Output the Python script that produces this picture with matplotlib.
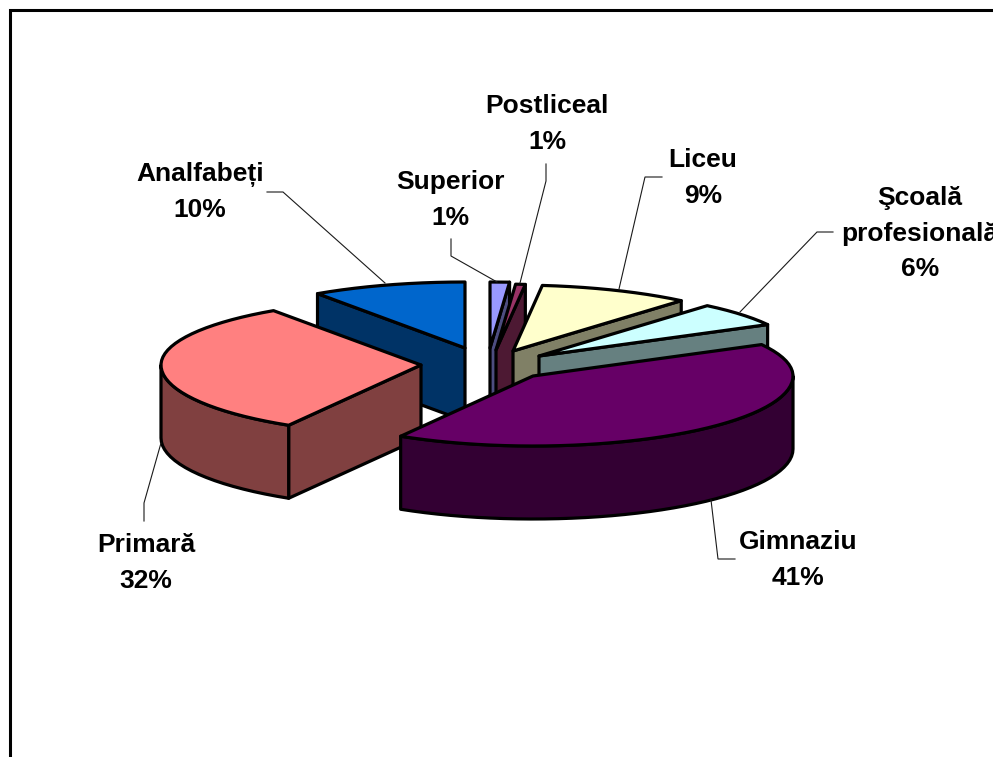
import numpy as np
import matplotlib
matplotlib.use("Agg")
import matplotlib.pyplot as plt
from matplotlib.patches import Polygon

# --- data (clockwise from 12 o'clock) ---
categories = ["Superior", "Postliceal", "Liceu", "Şcoală\nprofesională", "Gimnaziu", "Primară", "Analfabeți"]
shares = [1.2, 0.6, 9.4, 5.9, 41.4, 31.9, 9.6]
pct_labels = ["1%", "1%", "9%", "6%", "41%", "32%", "10%"]

# --- style ---
top_colors = ["#9999FF", "#993366", "#FFFFCC", "#CCFFFF", "#660066", "#FF8080", "#0066CC"]
side_colors = ["#4D4D80", "#4D1933", "#808066", "#668080", "#330033", "#804040", "#003366"]

# --- layout (pixel canvas) ---
W, H = 993, 757
RX, RY_BACK, RY_FRONT, DEPTH = 260.0, 66.0, 70.0, 73.0
LW = 2.3
apexes = [(490, 348), (496, 350), (513, 351), (539, 356), (533, 376), (421, 365), (465, 348)]
draw_order = [6, 0, 1, 2, 3, 5, 4]
label_x = [450, 547, 703, 920, 798, 146, 200]
label_base = [[189, 225], [113, 149], [167, 203], [205, 241, 276], [549, 585], [552, 588], [181, 217]]
leaders = [
    [(451, 239), (451, 256), (497, 282)],
    [(546, 164), (546, 181), (520, 283)],
    [(662, 177), (645, 177), (619, 289)],
    [(833, 232), (817, 232), (740, 312)],
    [(711, 500), (718, 559), (735, 559)],
    [(161, 443), (144, 503), (144, 521)],
    [(267, 192), (283, 192), (385, 283)],
]

fig = plt.figure(figsize=(W / 100, H / 100), dpi=100, facecolor="white")
ax = fig.add_axes([0, 0, 1, 1])
ax.set_xlim(0, W)
ax.set_ylim(H, 0)
ax.axis("off")


def rim(cx, cy, deg):
    t = np.radians(deg)
    c = np.cos(t)
    ry = np.where(c > 0, RY_BACK, RY_FRONT)
    return np.column_stack([cx + RX * np.sin(t), cy - ry * c])


def poly(pts, color, z):
    ax.add_patch(Polygon(pts, closed=True, facecolor=color, edgecolor="black",
                         linewidth=LW, joinstyle="round", zorder=z))


def drop(pts):
    return np.asarray(pts) + np.array([0, DEPTH])


total = sum(shares)
edges = np.concatenate([[0], np.cumsum(shares)]) / total * 360

for rank, i in enumerate(draw_order):
    a0, a1 = edges[i], edges[i + 1]
    cx, cy = apexes[i]
    base = 10 + rank * 5
    apex = np.array([[cx, cy]], dtype=float)
    n = max(2, int((a1 - a0) / 3) + 1)
    arc = rim(cx, cy, np.linspace(a0, a1, n))

    # cut faces that turn towards the viewer
    if 180 < a0 < 360:
        face = np.vstack([apex, arc[:1]])
        poly(np.vstack([face, drop(face)[::-1]]), side_colors[i], base)
    if 0 < a1 < 180:
        face = np.vstack([apex, arc[-1:]])
        poly(np.vstack([face, drop(face)[::-1]]), side_colors[i], base + 1)

    # outer wall on the front half
    lo, hi = max(a0, 90), min(a1, 270)
    if hi > lo:
        front = rim(cx, cy, np.linspace(lo, hi, max(2, int((hi - lo) / 3) + 1)))
        poly(np.vstack([front, drop(front)[::-1]]), side_colors[i], base + 2)

    # top
    poly(np.vstack([apex, arc]), top_colors[i], base + 3)

# leader lines
for pts in leaders:
    xs, ys = zip(*pts)
    ax.plot(xs, ys, color="#1a1a1a", lw=0.8, zorder=60, solid_joinstyle="miter")

# labels
for name, pct, x, bases in zip(categories, pct_labels, label_x, label_base):
    lines = name.split("\n") + [pct]
    for line, y in zip(lines, bases):
        ax.text(x, y, line, ha="center", va="baseline", fontsize=19, fontweight="bold",
                family="Liberation Sans", color="black", zorder=70)

# chart frame (cropped on the right and at the bottom)
ax.plot([9.5, 9.5, W + 5], [H + 5, 10, 10], color="black", lw=2.2, zorder=80,
        solid_joinstyle="miter", clip_on=True)

fig.savefig("out.png", dpi=100, facecolor="white")
